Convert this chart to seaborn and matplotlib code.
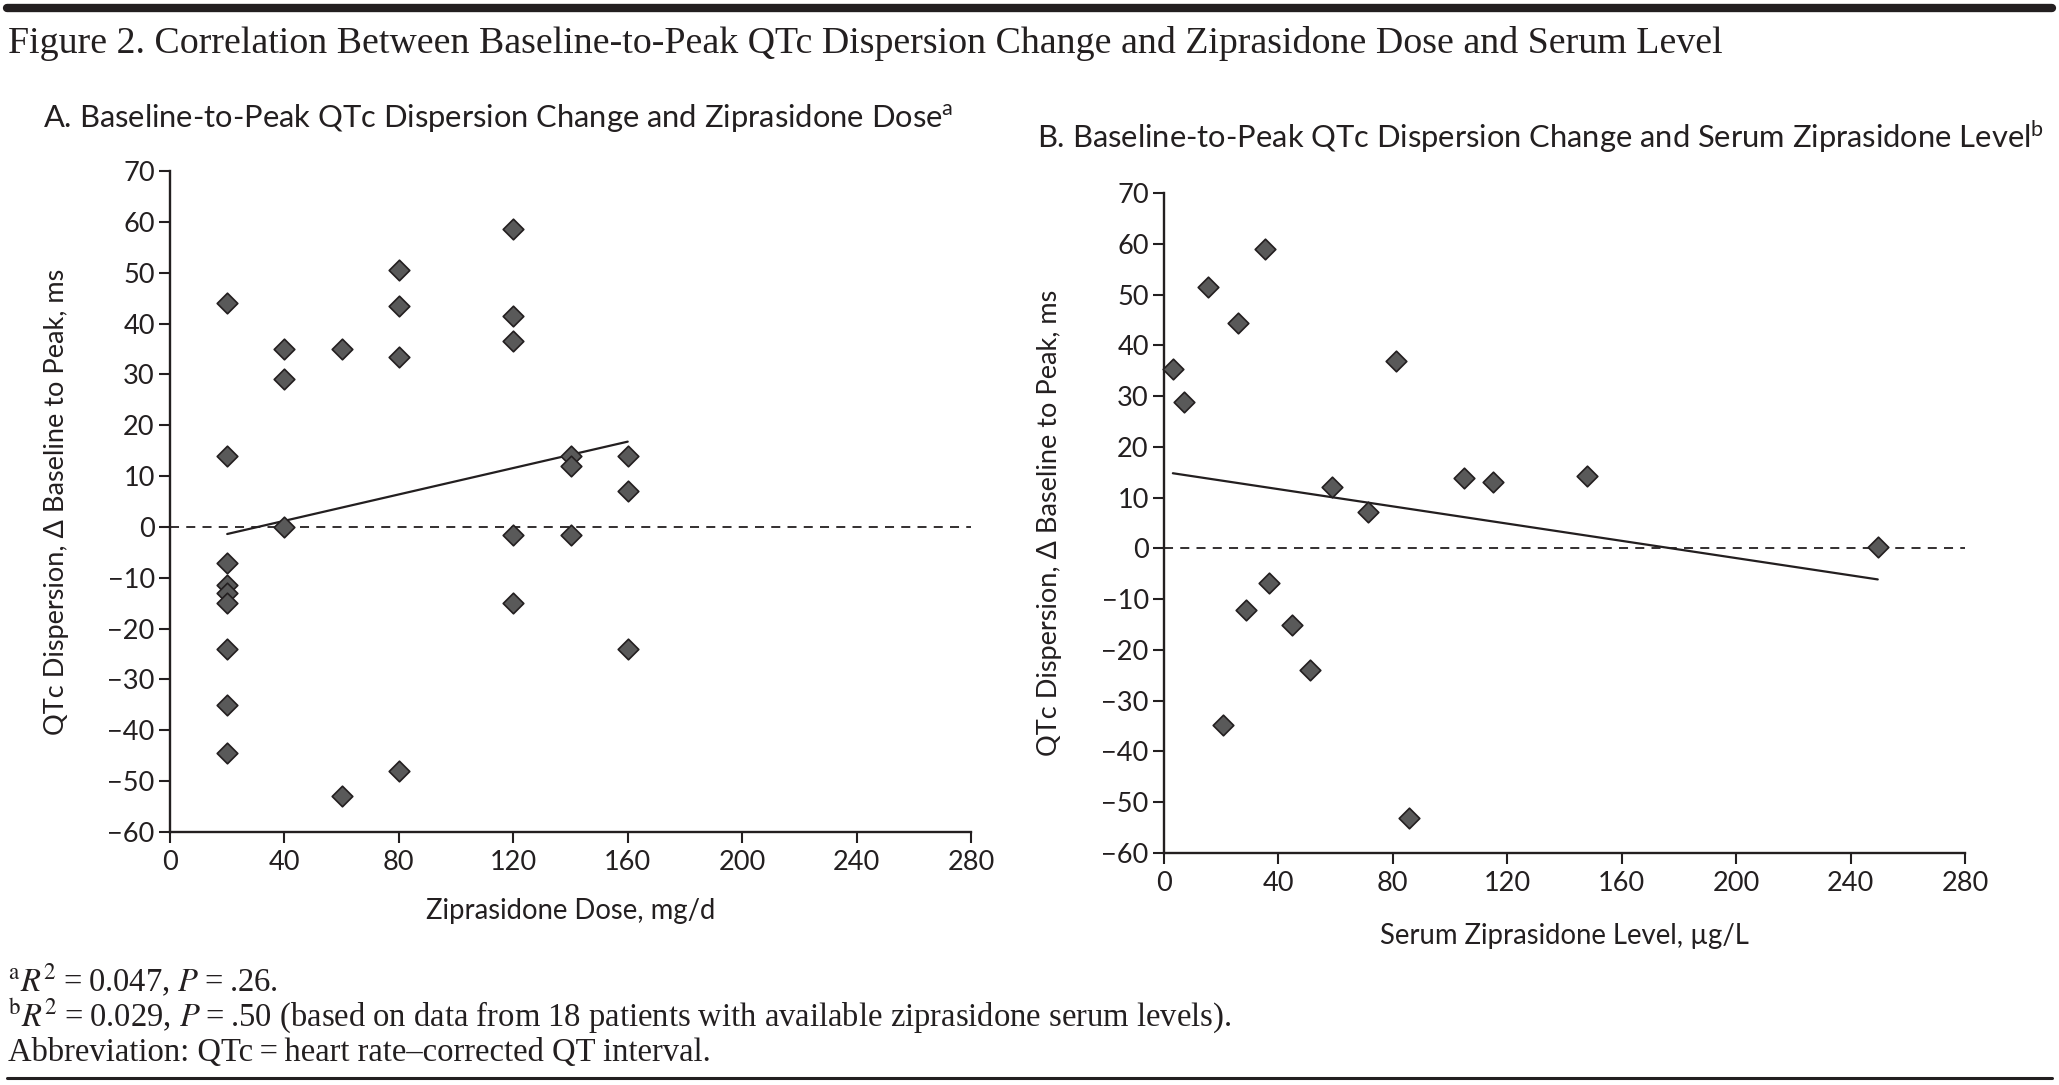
import numpy as np
import pandas as pd
import matplotlib
matplotlib.use("Agg")
import matplotlib.pyplot as plt
from matplotlib.lines import Line2D
import seaborn as sns

# Panel A: ziprasidone dose (mg/d) and change in QTc dispersion (ms)
dose_mg = [20, 20, 20, 20, 20, 20, 20, 20, 20,
           40, 40, 40,
           60, 60,
           80, 80, 80, 80,
           120, 120, 120, 120, 120,
           140, 140, 140,
           160, 160, 160]
dose_change = [44, 14, -7, -11.5, -13, -15, -24, -35, -44.5,
               35, 29, 0,
               35, -53,
               50.5, 43.5, 33.5, -48,
               58.5, 41.5, 36.5, -1.5, -15,
               14, 12, -1.5,
               14, 7, -24]

# Panel B: serum ziprasidone level (ug/L) and change in QTc dispersion (ms)
serum_level = [3.1, 7.1, 15.3, 25.7, 35.4, 81, 58.8, 71.3, 104.8,
               115, 148, 249.5, 36.6, 28.8, 44.9, 51, 20.5, 85.5]
serum_change = [35.4, 28.9, 51.4, 44.3, 59, 37, 12.1, 7.1, 13.9,
                13.1, 14.2, 0.2, -6.9, -12.1, -15, -23.9, -34.8, -53.1]

x_ticks = [0, 40, 80, 120, 160, 200, 240, 280]
y_ticks = [-60, -50, -40, -30, -20, -10, 0, 10, 20, 30, 40, 50, 60, 70]

df_a = pd.DataFrame({'dose': dose_mg, 'change': dose_change})
df_b = pd.DataFrame({'serum': serum_level, 'change': serum_change})

sns.set_theme(style="ticks")
plt.rcParams['font.family'] = ['Lato', 'DejaVu Sans']
plt.rcParams['mathtext.fontset'] = 'custom'
plt.rcParams['mathtext.rm'] = 'Lato'
plt.rcParams['mathtext.it'] = 'Lato:italic'

ink = '#231f20'
W, H = 2059, 1085
serif = ['Liberation Serif', 'DejaVu Serif']

fig = plt.figure(figsize=(W / 100, H / 100), dpi=100)
ax_a = fig.add_axes([170 / W, 1 - 832 / H, 801 / W, 661 / H])
ax_b = fig.add_axes([1164 / W, 1 - 853 / H, 801 / W, 660 / H])


def draw_panel(ax, df, xcol, xlabel, xlabel_y):
    ax.axhline(0, color=ink, lw=1.3, ls=(0, (5, 4)), zorder=1)
    sns.regplot(data=df, x=xcol, y='change', ax=ax, ci=None, marker='D',
                scatter_kws=dict(s=110, color='#595959', edgecolor=ink,
                                 linewidths=1.2, alpha=1, zorder=3, clip_on=False),
                line_kws=dict(color=ink, lw=1.6, zorder=2))
    ax.set_xlim(0, 280)
    ax.set_ylim(-60, 70)
    ax.set_xticks(x_ticks)
    ax.set_yticks(y_ticks)
    sns.despine(ax=ax)
    for side in ['left', 'bottom']:
        ax.spines[side].set_linewidth(1.7)
        ax.spines[side].set_color(ink)
    ax.tick_params(axis='both', direction='out', length=8, width=1.5,
                   color=ink, labelcolor=ink, labelsize=19.5)
    ax.tick_params(axis='x', pad=5)
    ax.tick_params(axis='y', pad=3)
    ax.set_ylabel('QTc Dispersion, \u0394 Baseline to Peak, ms',
                  fontsize=19.5, color=ink, va='center')
    ax.yaxis.set_label_coords(-114 / 801, 0.5)
    ax.set_xlabel(xlabel, fontsize=19.8, color=ink, va='center')
    ax.xaxis.set_label_coords(0.5, xlabel_y)


draw_panel(ax_a, df_a, 'dose', 'Ziprasidone Dose, mg/d', -79 / 661)
draw_panel(ax_b, df_b, 'serum', 'Serum Ziprasidone Level, \u00b5g/L', -83 / 660)

# titles
fig.text(8 / W, 1 - 53 / H,
         'Figure 2. Correlation Between Baseline-to-Peak QTc Dispersion Change '
         'and Ziprasidone Dose and Serum Level',
         family=serif, fontsize=27.3, color=ink, va='baseline', ha='left')
fig.text(43 / W, 1 - 127 / H,
         r'A. Baseline-to-Peak QTc Dispersion Change and Ziprasidone Dose$^{\mathrm{a}}$',
         fontsize=22.2, color=ink, va='baseline', ha='left')
fig.text(1037 / W, 1 - 148 / H,
         r'B. Baseline-to-Peak QTc Dispersion Change and Serum Ziprasidone Level$^{\mathrm{b}}$',
         fontsize=22.2, color=ink, va='baseline', ha='left')

# footnotes
eq = '\u2009=\u2009'
notes = [r'$^{\rm a}R^2$' + eq + '0.047, $P$' + eq + '.26.',
         r'$^{\rm b}R^2$' + eq + '0.029, $P$' + eq + '.50 (based on data from 18 patients with '
         'available ziprasidone serum levels).',
         'Abbreviation: QTc' + eq + 'heart rate\u2013corrected QT interval.']
for note, base in zip(notes, [992, 1026, 1061]):
    fig.text(8 / W, 1 - base / H, note, family=serif, fontsize=23.5, color=ink,
             va='baseline', ha='left', math_fontfamily='stix')

# rules
fig.add_artist(Line2D([7 / W, 2052 / W], [1 - 8 / H, 1 - 8 / H], lw=6, color=ink))
fig.add_artist(Line2D([7 / W, 2052 / W], [1 - 1078 / H, 1 - 1078 / H], lw=2.2, color=ink))

fig.savefig('out.png', dpi=100)
